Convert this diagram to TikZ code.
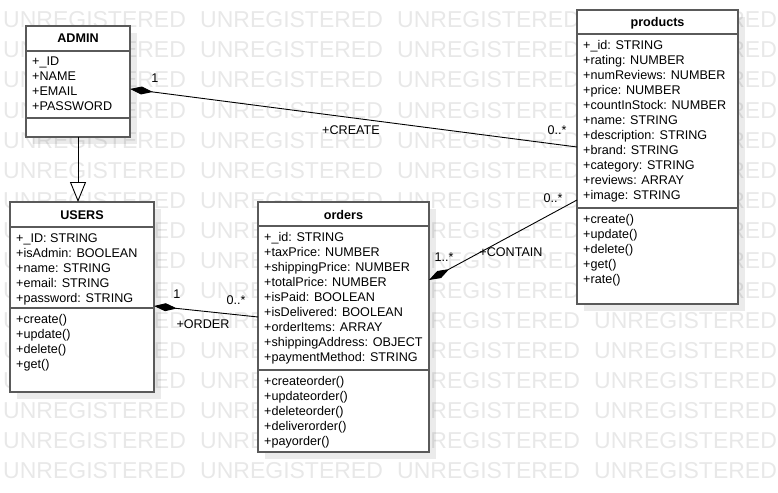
\documentclass[tikz,border=0pt]{standalone}
\usepackage{fontspec}
\setmainfont{Liberation Sans}
\usetikzlibrary{arrows.meta,shadows}
\definecolor{boxgray}{HTML}{5A5A5A}
\begin{document}
\begin{tikzpicture}[x=1pt,y=-1pt,
    watermark/.style={anchor=base west, inner sep=0pt, text=black!9, font=\fontsize{23}{27}\selectfont},
    classbox/.style={draw=boxgray, line width=2pt, fill=white, anchor=north west, inner sep=0pt, outer sep=0pt,
        drop shadow={shadow xshift=7pt, shadow yshift=-7pt, fill=black, opacity=0.08}},
    sepline/.style={draw=boxgray, line width=2pt},
    classname/.style={anchor=base, inner sep=0pt, font=\fontsize{12.6}{15}\selectfont\bfseries},
    members/.style={anchor=north west, align=left, inner sep=0pt, font=\fontsize{12.6}{15}\selectfont},
    lbl/.style={inner sep=0pt, font=\fontsize{12.6}{15}\selectfont},
    comp/.style={{Diamond[length=23pt, width=8pt]}-, line width=0.9pt},
    inherit/.style={-{Triangle[open, fill=white, length=20pt, width=16pt]}, line width=0.9pt}]
    \useasboundingbox (0,0) rectangle (778,492);
    \foreach \r in {0,...,15}
        \foreach \c in {0,...,3}
            \node[watermark] (wm-\r-\c) at (3+197*\c, 28+30*\r) {UNREGISTERED};

    \node[classbox, minimum width=104pt, minimum height=111pt] (admin) at (26,26) {};
    \node[classname] (admin-name) at ([yshift=-17pt]admin.north) {ADMIN};
    \draw[sepline] ([yshift=-25pt]admin.north west) -- ([yshift=-25pt]admin.north east);
    \draw[sepline] ([yshift=-92pt]admin.north west) -- ([yshift=-92pt]admin.north east);
    \node[members] (admin-attr) at ([xshift=6pt, yshift=-31pt]admin.north west)
        {+\_ID\\+NAME\\+EMAIL\\+PASSWORD};

    \node[classbox, minimum width=144pt, minimum height=190pt] (users) at (10,202) {};
    \node[classname] (users-name) at ([yshift=-17pt]users.north) {USERS};
    \draw[sepline] ([yshift=-25pt]users.north west) -- ([yshift=-25pt]users.north east);
    \draw[sepline] ([yshift=-106pt]users.north west) -- ([yshift=-106pt]users.north east);
    \node[members] (users-attr) at ([xshift=6pt, yshift=-31pt]users.north west)
        {+\_ID: STRING\\+isAdmin: BOOLEAN\\+name: STRING\\+email: STRING\\+password: STRING};
    \node[members] (users-ops) at ([xshift=6pt, yshift=-112pt]users.north west)
        {+create()\\+update()\\+delete()\\+get()};

    \node[classbox, minimum width=171pt, minimum height=250pt] (orders) at (258,202) {};
    \node[classname] (orders-name) at ([yshift=-17pt]orders.north) {orders};
    \draw[sepline] ([yshift=-24pt]orders.north west) -- ([yshift=-24pt]orders.north east);
    \draw[sepline] ([yshift=-168pt]orders.north west) -- ([yshift=-168pt]orders.north east);
    \node[members] (orders-attr) at ([xshift=6pt, yshift=-30pt]orders.north west)
        {+\_id: STRING\\+taxPrice: NUMBER\\+shippingPrice: NUMBER\\+totalPrice: NUMBER\\+isPaid: BOOLEAN\\
         +isDelivered: BOOLEAN\\+orderItems: ARRAY\\+shippingAddress: OBJECT\\+paymentMethod: STRING};
    \node[members] (orders-ops) at ([xshift=6pt, yshift=-174pt]orders.north west)
        {+createorder()\\+updateorder()\\+deleteorder()\\+deliverorder()\\+payorder()};

    \node[classbox, minimum width=161pt, minimum height=294pt] (products) at (577,10) {};
    \node[classname] (products-name) at ([yshift=-17pt]products.north) {products};
    \draw[sepline] ([yshift=-24pt]products.north west) -- ([yshift=-24pt]products.north east);
    \draw[sepline] ([yshift=-198pt]products.north west) -- ([yshift=-198pt]products.north east);
    \node[members] (products-attr) at ([xshift=6pt, yshift=-30pt]products.north west)
        {+\_id: STRING\\+rating: NUMBER\\+numReviews: NUMBER\\+price: NUMBER\\+countInStock: NUMBER\\+name: STRING\\
         +description: STRING\\+brand: STRING\\+category: STRING\\+reviews: ARRAY\\+image: STRING};
    \node[members] (products-ops) at ([xshift=6pt, yshift=-204pt]products.north west)
        {+create()\\+update()\\+delete()\\+get()\\+rate()};

    \draw[inherit] (admin.south) -- (admin.south |- users.north);
    \draw[comp] ([yshift=-7.5pt]admin.east) -- ([yshift=10pt]products.west);
    \draw[comp] ([yshift=47pt]orders.east) -- ([yshift=-43pt]products.west);
    \draw[comp] ([yshift=-9pt]users.east) -- ([yshift=10pt]orders.west);

    \node[lbl] (create-one) at (155,78) {1};
    \node[lbl] (create-name) at (351,130) {+CREATE};
    \node[lbl] (create-many) at (557,130) {0..*};
    \node[lbl] (contain-many) at (553,198) {0..*};
    \node[lbl] (contain-name) at (511,252) {+CONTAIN};
    \node[lbl] (contain-some) at (444,257) {1..*};
    \node[lbl] (order-one) at (177,294) {1};
    \node[lbl] (order-many) at (236,300) {0..*};
    \node[lbl] (order-name) at (203,324) {+ORDER};
\end{tikzpicture}
\end{document}
